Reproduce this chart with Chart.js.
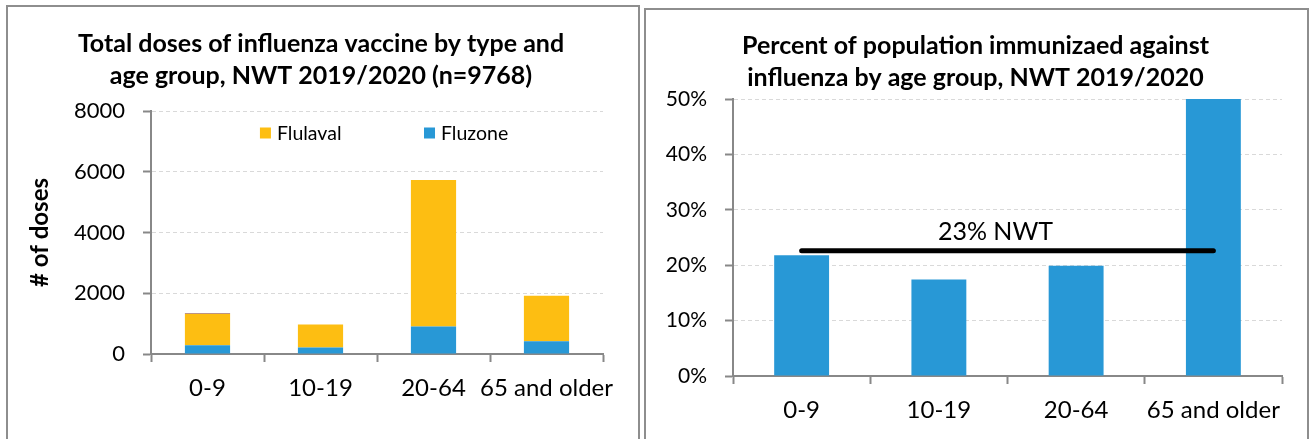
<!DOCTYPE html>
<html>
<head>
<meta charset="utf-8">
<title>NWT influenza 2019/2020</title>
<script src="https://cdn.jsdelivr.net/npm/chart.js@4.4.1/dist/chart.umd.min.js"></script>
<style>
    body { margin: 0; background: #fff; overflow: hidden; }
    .frame { position: absolute; border: 2px solid #8e8e8e; border-bottom: none; box-sizing: border-box; }
    .wrap { position: absolute; top: 0; height: 439px; }
</style>
</head>
<body>
<div class="frame" style="left:6px;top:5px;width:634px;height:440px"></div>
<div class="frame" style="left:644px;top:8px;width:665px;height:440px"></div>
<div class="wrap" style="left:0;width:642px"><canvas id="dosesChart"></canvas></div>
<div class="wrap" style="left:642px;width:667px"><canvas id="percentChart"></canvas></div>

<script>
const ageGroups = ['0-9', '10-19', '20-64', '65 and older'];

// doses by vaccine type (stacked)
const fluzoneDoses = [290, 210, 905, 420];
const flulavalDoses = [1025, 760, 4825, 1495];
const otherDoses = [15, 0, 0, 0];
const legendLabels = ['Flulaval', 'Fluzone'];

// percent immunized
const percentImmunized = [21.8, 17.4, 19.9, 50];
const nwtPercent = 22.6;

const axisGrey = '#888888';
const gridGrey = '#d9d9d9';
const yellow = '#fdbe12';
const blue = '#2898d6';

Chart.defaults.font.family = 'Lato';
Chart.defaults.color = '#000';
Chart.defaults.animation = false;

// legend drawn inside the plot, like the excel one
const insideLegend = {
    id: 'insideLegend',
    afterDraw(chart) {
        const ctx = chart.ctx;
        const area = chart.chartArea;
        const spots = [0.241, 0.604];
        ctx.save();
        ctx.font = '19.5px Lato';
        ctx.textBaseline = 'middle';
        legendLabels.forEach((name, i) => {
            const ds = chart.data.datasets.find(d => d.label === name);
            const x = area.left + area.width * spots[i];
            const y = area.top + 22;
            ctx.fillStyle = ds.backgroundColor;
            ctx.fillRect(x, y - 5.5, 11, 11);
            ctx.fillStyle = '#000';
            ctx.fillText(name, x + 17, y + 1);
        });
        ctx.restore();
    }
};

const nwtLabel = {
    id: 'nwtLabel',
    afterDatasetsDraw(chart) {
        const { ctx, scales: { x, y } } = chart;
        const cx = (x.getPixelForValue(0) + x.getPixelForValue(ageGroups.length - 1)) / 2 - 12;
        const cy = y.getPixelForValue(nwtPercent) - 19;
        ctx.save();
        ctx.font = '25px Lato';
        ctx.fillStyle = '#000';
        ctx.textAlign = 'center';
        ctx.textBaseline = 'middle';
        ctx.fillText(Math.round(nwtPercent) + '% NWT', cx, cy);
        ctx.restore();
    }
};

function xAxis(height) {
    return {
        afterFit(scale) { scale.height = height; },
        grid: { offset: true, drawOnChartArea: false, tickLength: 8, tickColor: axisGrey, tickWidth: 2 },
        border: { color: axisGrey, width: 2 },
        ticks: { font: { size: 24 }, padding: 12, maxRotation: 0, autoSkip: false }
    };
}

// empty right-hand axis, only keeps a gap on the right so the title stays centred
function spacer(width) {
    return {
        position: 'right',
        afterFit(scale) { scale.width = width; },
        grid: { display: false },
        border: { display: false },
        ticks: { display: false }
    };
}

function yGrid() {
    return { color: gridGrey, lineWidth: 1, tickLength: 8, tickColor: axisGrey, tickWidth: 2, tickBorderDash: [] };
}

function makeCharts() {
    const dosesX = xAxis(85);
    dosesX.stacked = true;

    new Chart(document.getElementById('dosesChart'), {
        type: 'bar',
        data: {
            labels: ageGroups,
            datasets: [
                { label: 'Fluzone', data: fluzoneDoses, backgroundColor: blue },
                { label: 'Flulaval', data: flulavalDoses, backgroundColor: yellow },
                { label: 'Other', data: otherDoses, backgroundColor: '#7a2a0c' }
            ]
        },
        options: {
            responsive: true,
            maintainAspectRatio: false,
            datasets: { bar: { barPercentage: 0.4, categoryPercentage: 1 } },
            plugins: {
                legend: { display: false },
                tooltip: { enabled: false },
                title: {
                    display: true,
                    text: ['Total doses of influenza vaccine by type and', 'age group, NWT 2019/2020 (n=9768)'],
                    font: { size: 25, weight: 'bold', lineHeight: 1.28 },
                    color: '#000',
                    padding: { top: 28, bottom: 19 }
                }
            },
            scales: {
                x: dosesX,
                y: {
                    stacked: true,
                    min: 0,
                    max: 8000,
                    afterFit(scale) { scale.width = 151; },
                    ticks: { stepSize: 2000, font: { size: 22 }, padding: 18, callback: v => String(v) },
                    grid: yGrid(),
                    border: { color: axisGrey, width: 2, dash: [4, 3] },
                    title: {
                        display: true,
                        text: '# of doses',
                        font: { size: 24, weight: 'bold' },
                        padding: { top: 26 }
                    }
                },
                pad: spacer(39)
            }
        },
        plugins: [insideLegend]
    });

    new Chart(document.getElementById('percentChart'), {
        type: 'bar',
        data: {
            labels: ageGroups,
            datasets: [
                {
                    type: 'line',
                    label: 'NWT',
                    data: ageGroups.map(() => nwtPercent),
                    borderColor: '#000',
                    borderWidth: 5,
                    borderCapStyle: 'round',
                    pointRadius: 0,
                    order: 0
                },
                {
                    label: 'Percent immunized',
                    data: percentImmunized,
                    backgroundColor: blue,
                    barPercentage: 0.4,
                    categoryPercentage: 1,
                    order: 1
                }
            ]
        },
        options: {
            responsive: true,
            maintainAspectRatio: false,
            plugins: {
                legend: { display: false },
                tooltip: { enabled: false },
                title: {
                    display: true,
                    text: ['Percent of population immunizaed against', 'influenza by age group, NWT 2019/2020'],
                    font: { size: 25, weight: 'bold', lineHeight: 1.29 },
                    color: '#000',
                    padding: { top: 29.5, bottom: 5 }
                }
            },
            scales: {
                x: xAxis(63),
                y: {
                    min: 0,
                    max: 50,
                    afterFit(scale) { scale.width = 91; },
                    ticks: { stepSize: 10, font: { size: 21 }, padding: 18, callback: v => v + '%' },
                    grid: yGrid(),
                    border: { color: axisGrey, width: 2, dash: [4, 3] }
                },
                pad: spacer(27)
            }
        },
        plugins: [nwtLabel]
    });
}

Promise.all([
    document.fonts.load('21px Lato'),
    document.fonts.load('bold 21px Lato')
]).then(makeCharts, makeCharts);
</script>
</body>
</html>
